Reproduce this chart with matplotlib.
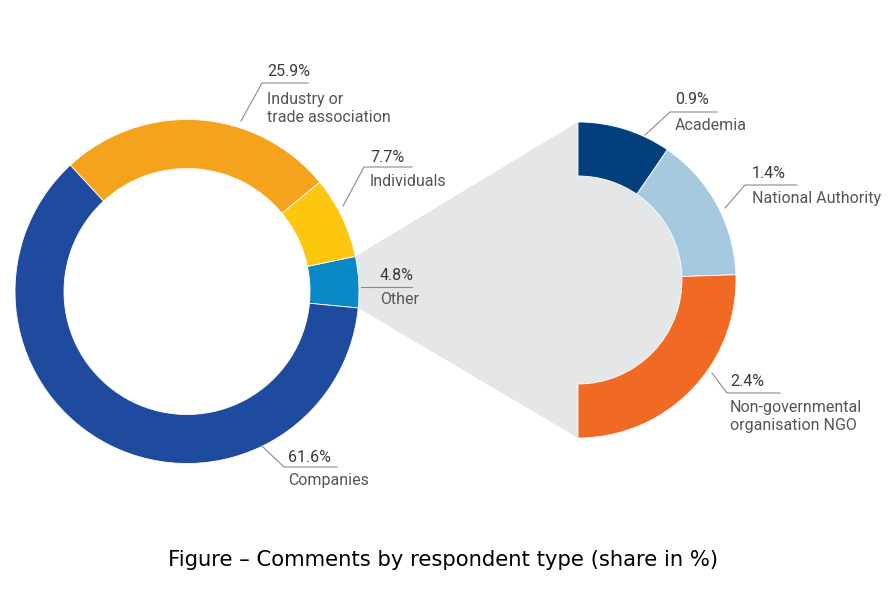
import numpy as np
import matplotlib.pyplot as plt
from matplotlib.patches import Polygon, Wedge

# main ring
main_labels = ['Other', 'Individuals', 'Industry or\ntrade association', 'Companies']
main_values = [4.8, 7.7, 25.9, 61.6]
main_colors = ['#0b88c8', '#fdc70f', '#f5a31d', '#1f4b9f']

# breakdown of "Other"
other_labels = ['Academia', 'National Authority', 'Non-governmental\norganisation NGO']
other_values = [0.9, 1.4, 2.4]
other_colors = ['#043f7d', '#a5c9de', '#f06a24']

caption = 'Figure \u2013 Comments by respondent type (share in %)'

W, H = 888, 591
txt_font = ['Roboto', 'DejaVu Sans']
txt_col = '#555555'
line_col = '#8c8c8c'
grey = '#e4e6e8'

fig = plt.figure(figsize=(W / 100, H / 100), dpi=100)
ax = fig.add_axes([0, 0, 1, 1])


def py(v):
    # pixel row (from top) -> data y
    return H - v


c1 = (187, py(291.5))
r1 = 172
c2 = (578, py(280))
r2 = 158

wedges1, _ = ax.pie(main_values, colors=main_colors, center=c1, radius=r1,
                    startangle=-5.5, counterclock=True, frame=True,
                    wedgeprops=dict(width=49, edgecolor='white', linewidth=0.6))

# grey connector from "Other" slice to the half ring
t1 = np.deg2rad(wedges1[0].theta1)
t2 = np.deg2rad(wedges1[0].theta2)
p_top = (c1[0] + r1 * np.cos(t2), c1[1] + r1 * np.sin(t2))
p_bot = (c1[0] + r1 * np.cos(t1), c1[1] + r1 * np.sin(t1))
ax.add_patch(Polygon([p_top, (c2[0], c2[1] + r2), (c2[0], c2[1] - r2), p_bot],
                     closed=True, facecolor=grey, edgecolor='none', zorder=0))
ax.add_patch(Wedge(c2, r2, -90, 90, facecolor=grey, edgecolor='none', zorder=0))

half_values = other_values + [sum(other_values)]
half_colors = other_colors + ['none']
wedges2, _ = ax.pie(half_values, colors=half_colors, center=c2, radius=r2,
                    startangle=90, counterclock=False, frame=True,
                    wedgeprops=dict(width=54, edgecolor='white', linewidth=0.6))
wedges2[-1].set_edgecolor('none')

ax.set_xlim(0, W)
ax.set_ylim(0, H)
ax.set_aspect('equal')
ax.axis('off')

# label layout: (leader points in pixels, text x, pct y, name y)
layout = {
    'Industry or\ntrade association': ([(241, 121), (262, 83), (308, 83)], 267, 71, 108.5),
    'Individuals': ([(343, 206), (364, 167), (412, 167)], 370, 158, 182),
    'Other': ([(361, 287), (412, 287)], 380, 276, 300),
    'Companies': ([(262, 446), (284, 467), (337, 467)], 288, 457, 481),
    'Academia': ([(645, 135), (670, 112), (717, 112)], 675, 100, 126),
    'National Authority': ([(725, 208), (745, 185), (797, 185)], 752, 173, 198),
    'Non-governmental\norganisation NGO': ([(712, 373), (727, 393), (780, 393)], 730, 382, 416.5),
}

for lab, val in zip(main_labels + other_labels, main_values + other_values):
    pts, tx, ty_pct, ty_name = layout[lab]
    xs = [p[0] for p in pts]
    ys = [py(p[1]) for p in pts]
    ax.plot(xs, ys, color=line_col, linewidth=0.8, zorder=3)
    ax.text(tx, py(ty_pct), f'{val}%', family=txt_font, fontsize=11.5,
            color='#3a3a3a', va='center', ha='left')
    ax.text(tx, py(ty_name), lab, family=txt_font, fontsize=11.5,
            color=txt_col, va='center', ha='left', linespacing=1.18)

ax.text(443.5, py(560), caption, family='DejaVu Sans', fontsize=15.2,
        color='black', ha='center', va='center')

fig.savefig('out.png', dpi=100)
